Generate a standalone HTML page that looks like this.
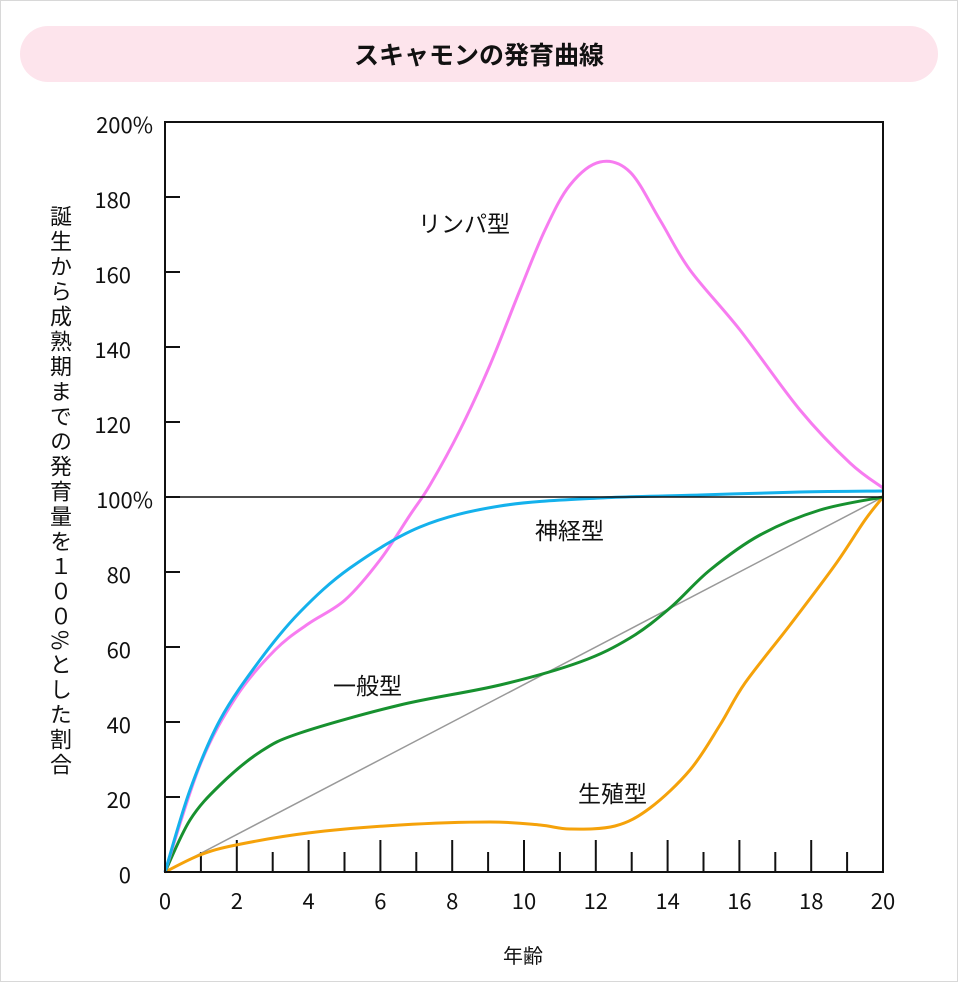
<!DOCTYPE html>
<html><head><meta charset="utf-8"><style>
html,body{margin:0;padding:0;background:#fff}
body{width:958px;height:982px;position:relative;overflow:hidden;font-family:"Liberation Sans","Noto Sans CJK JP",sans-serif}
.frame{position:absolute;left:0;top:0;width:956px;height:980px;border:1px solid #d8d8d8}
.pill{position:absolute;left:20px;top:26px;width:918px;height:56px;border-radius:28px;background:#fde4ec;text-align:center;line-height:56px;font-size:25px;font-weight:bold;color:#111;font-family:"Noto Sans CJK JP",sans-serif}
.ylab{position:absolute;left:45px;top:205px;writing-mode:vertical-rl;font-size:22px;color:#111;letter-spacing:3px;font-family:"Noto Sans CJK JP",sans-serif}
</style></head><body>
<div class="frame"></div>
<div class="pill">スキャモンの発育曲線</div>
<div class="ylab">誕生から成熟期までの発育量を１００%とした割合</div>
<svg width="958" height="982" style="position:absolute;left:0;top:0" font-family="Noto Sans CJK JP, sans-serif">
<g id="ticks" stroke="#111" stroke-width="2"></g>
<g font-size="22" fill="#111" id="labels"></g>
<line x1="165" y1="872" x2="883" y2="497" stroke="#999" stroke-width="1.5"/>
<path id="orange" fill="none" stroke="#f5a20a" stroke-width="3"/>
<path id="green" fill="none" stroke="#17912f" stroke-width="3"/>
<path id="pink" fill="none" stroke="#f77cf0" stroke-width="3"/>
<path id="blue" fill="none" stroke="#14b1ec" stroke-width="3"/>
<line x1="165" y1="497" x2="883" y2="497" stroke="#111" stroke-width="1.5"/>
<rect x="165" y="122" width="718" height="750" fill="none" stroke="#111" stroke-width="2"/>
<g font-size="23" fill="#111">
<text x="418" y="232">リンパ型</text>
<text x="535" y="539">神経型</text>
<text x="333" y="694">一般型</text>
<text x="578" y="802">生殖型</text>
<text x="503" y="963" font-size="20">年齢</text>
</g>
</svg>
<script>
function cr(p){let d="M"+p[0][0]+","+p[0][1];for(let i=0;i<p.length-1;i++){const p0=p[i-1]||p[i],p1=p[i],p2=p[i+1],p3=p[i+2]||p2;const c1=[p1[0]+(p2[0]-p0[0])/6,p1[1]+(p2[1]-p0[1])/6],c2=[p2[0]-(p3[0]-p1[0])/6,p2[1]-(p3[1]-p1[1])/6];d+=` C${c1[0]},${c1[1]} ${c2[0]},${c2[1]} ${p2[0]},${p2[1]}`;}return d;}
const S={
pink:[[165,872],[200,765],[236,697],[275,650],[308,624],[345,600],[380,560],[410,515],[430,485],[460,430],[490,365],[520,290],[545,230],[570,185],[600,162],[630,172],[660,220],[690,270],[740,330],[800,410],[850,463],[883,488]],
blue:[[165,872],[190,790],[220,720],[260,660],[300,612],[350,568],[420,527],[500,506],[600,498],[700,495],[800,492],[883,491]],
green:[[165,872],[190,820],[220,785],[260,752],[300,733],[400,705],[500,685],[580,662],[630,638],[670,608],[710,570],[760,535],[820,510],[883,497]],
orange:[[165,872],[200,855],[236,845],[308,833],[400,825],[490,822],[540,825],[570,829],[615,826],[650,808],[690,770],[720,725],[745,683],[790,625],[835,565],[865,520],[883,497]]};
for(const k in S)document.getElementById(k).setAttribute("d",cr(S[k]));
let t="",l="";
for(let i=1;i<10;i++){const y=872-i*75;t+=`<line x1="165" y1="${y}" x2="180" y2="${y}"/>`;}
for(let i=1;i<20;i++){const x=165+i*35.9;const h=i%2?20:32;t+=`<line x1="${x}" y1="872" x2="${x}" y2="${872-h}"/>`;}
document.getElementById("ticks").innerHTML=t;
const yl=["0","20","40","60","80","100%","120","140","160","180","200%"];
for(let i=0;i<=10;i++){const y=872-i*75+11;const pct=(i==5||i==10);l+=`<text x="${pct?153:131}" y="${y}" text-anchor="end">${yl[i]}</text>`;}
for(let i=0;i<=20;i+=2){const x=165+i*35.9;l+=`<text x="${x}" y="909" text-anchor="middle">${i}</text>`;}
document.getElementById("labels").innerHTML=l;
</script>
</body></html>
